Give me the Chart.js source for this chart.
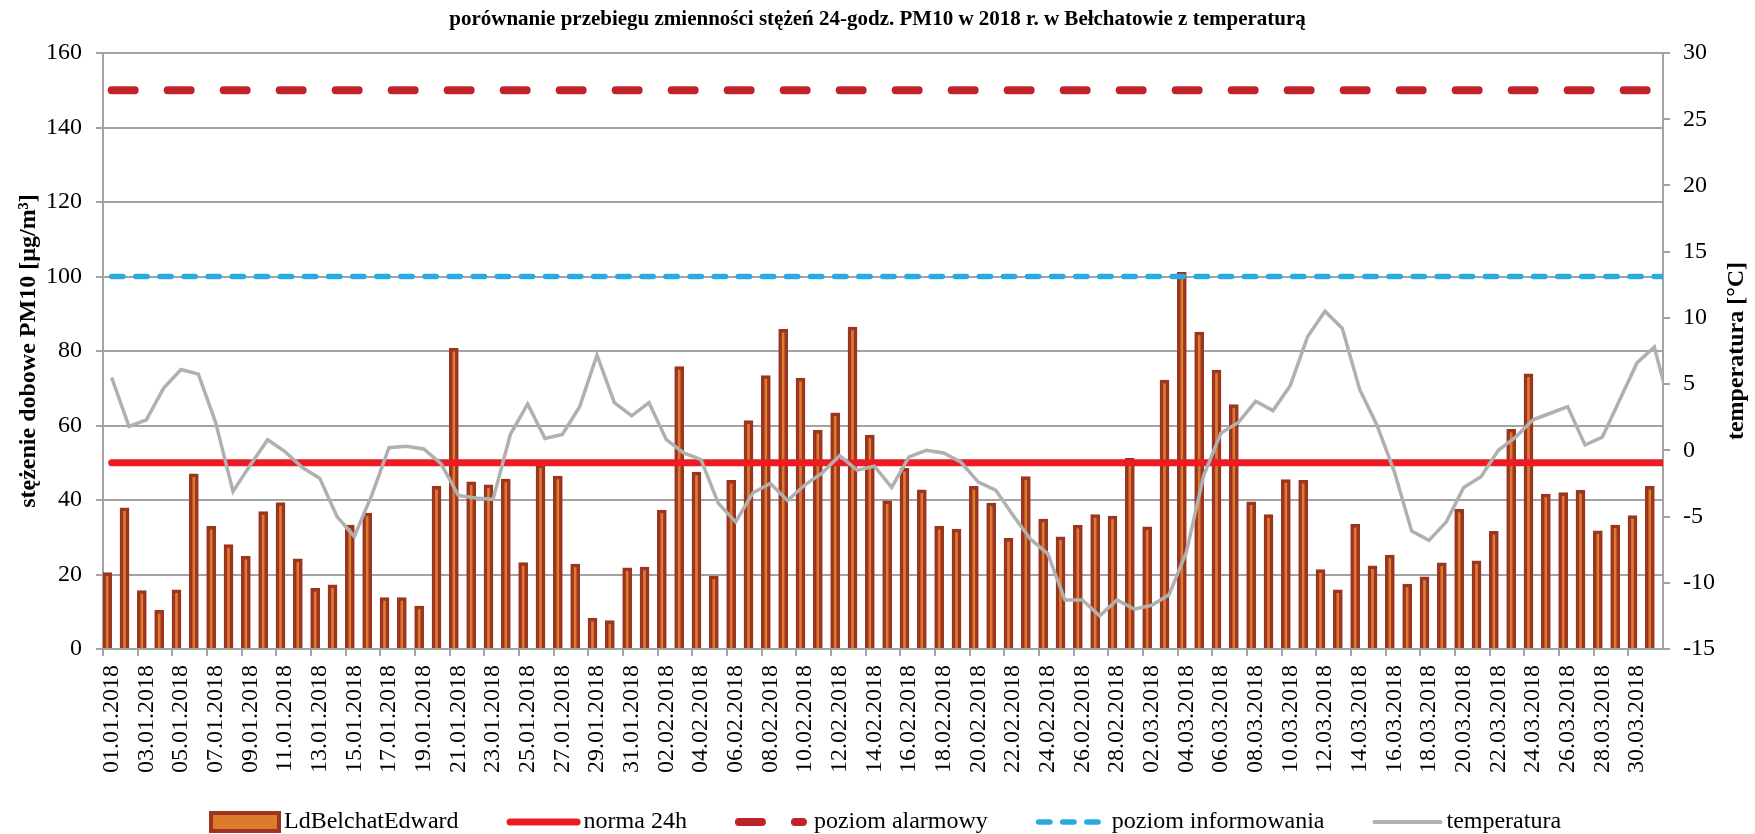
<!DOCTYPE html>
<html>
<head>
<meta charset="utf-8">
<script src="https://cdn.jsdelivr.net/npm/chart.js@4.4.1/dist/chart.umd.min.js"></script>
<style>
html,body{margin:0;padding:0;background:#fff;}
canvas{display:block;}
</style>
</head>
<body>
<canvas id="c" width="1755" height="834"></canvas>
<script>
// ---------- DATA ----------
const dates = [
 '01.01.2018','02.01.2018','03.01.2018','04.01.2018','05.01.2018','06.01.2018','07.01.2018','08.01.2018','09.01.2018','10.01.2018',
 '11.01.2018','12.01.2018','13.01.2018','14.01.2018','15.01.2018','16.01.2018','17.01.2018','18.01.2018','19.01.2018','20.01.2018',
 '21.01.2018','22.01.2018','23.01.2018','24.01.2018','25.01.2018','26.01.2018','27.01.2018','28.01.2018','29.01.2018','30.01.2018',
 '31.01.2018','01.02.2018','02.02.2018','03.02.2018','04.02.2018','05.02.2018','06.02.2018','07.02.2018','08.02.2018','09.02.2018',
 '10.02.2018','11.02.2018','12.02.2018','13.02.2018','14.02.2018','15.02.2018','16.02.2018','17.02.2018','18.02.2018','19.02.2018',
 '20.02.2018','21.02.2018','22.02.2018','23.02.2018','24.02.2018','25.02.2018','26.02.2018','27.02.2018','28.02.2018','01.03.2018',
 '02.03.2018','03.03.2018','04.03.2018','05.03.2018','06.03.2018','07.03.2018','08.03.2018','09.03.2018','10.03.2018','11.03.2018',
 '12.03.2018','13.03.2018','14.03.2018','15.03.2018','16.03.2018','17.03.2018','18.03.2018','19.03.2018','20.03.2018','21.03.2018',
 '22.03.2018','23.03.2018','24.03.2018','25.03.2018','26.03.2018','27.03.2018','28.03.2018','29.03.2018','30.03.2018','31.03.2018'
];

// PM10 24-h concentration [µg/m3], LdBelchatEdward
const pm10 = [
 20.5, 37.9, 15.7, 10.4, 15.9, 47.0, 32.9, 28.0, 24.9, 36.9,
 39.3, 24.2, 16.3, 17.2, 33.3, 36.5, 13.8, 13.8, 11.5, 43.7,
 80.7, 44.9, 44.1, 45.6, 23.2, 49.4, 46.4, 22.8, 8.3, 7.6,
 21.8, 22.0, 37.3, 75.8, 47.5, 19.6, 45.3, 61.3, 73.4, 85.8,
 72.7, 58.7, 63.4, 86.4, 57.4, 39.8, 48.5, 42.7, 32.9, 32.2,
 43.7, 39.2, 29.7, 46.3, 34.9, 30.1, 33.2, 36.1, 35.7, 51.2,
 32.8, 72.2, 101.1, 85.1, 74.9, 65.6, 39.5, 36.1, 45.5, 45.3,
 21.3, 15.9, 33.5, 22.3, 25.2, 17.4, 19.4, 23.1, 37.5, 23.7,
 31.6, 59.0, 73.9, 41.6, 42.0, 42.6, 31.7, 33.3, 35.8, 43.7
];

// temperature [°C]; last value is the partly visible start of the next day
const temperature = [
 5.5, 1.8, 2.3, 4.7, 6.1, 5.75, 2.1, -3.1, -1.1, 0.8,
 -0.1, -1.3, -2.1, -5.0, -6.5, -3.4, 0.2, 0.3, 0.1, -1.0,
 -3.4, -3.6, -3.7, 1.2, 3.5, 0.9, 1.2, 3.3, 7.2, 3.6,
 2.6, 3.6, 0.8, -0.2, -0.7, -4.0, -5.4, -3.2, -2.5, -3.8,
 -2.6, -1.7, -0.4, -1.5, -1.2, -2.8, -0.5, 0.0, -0.2, -0.9,
 -2.4, -3.0, -4.9, -6.7, -7.8, -11.3, -11.3, -12.5, -11.3, -12.0,
 -11.7, -10.9, -7.7, -1.9, 1.3, 2.1, 3.7, 3.0, 4.9, 8.6,
 10.5, 9.2, 4.6, 1.9, -1.6, -6.1, -6.8, -5.4, -2.8, -2.0,
 0.0, 1.0, 2.3, 2.8, 3.3, 0.4, 1.0, 3.8, 6.6, 7.8,
 2.8
];

const NORMA_24H = 50;
const POZIOM_ALARMOWY = 150;
const POZIOM_INFORMOWANIA = 100;

const leftTicks = { min: 0, max: 160, step: 20 };
const rightTicks = { min: -15, max: 30, step: 5 };

// ---------- STYLE ----------
const GRID = '#a3a3a3';
const FONT = 'Liberation Serif';
const C_BAR_FILL = '#dd7a2e';
const C_BAR_BORDER = '#9c3520';
const C_NORM = '#ed1c24';
const C_ALARM = '#c1232b';
const C_INFO = '#29abe2';
const C_TEMP = '#b0b0b0';

const nPts = temperature.length;
const constSeries = v => Array.from({length: nPts}, (_, i) => ({x: i, y: v}));
const tempSeries = temperature.map((v, i) => ({x: i, y: v}));

// custom legend + right axis title (reads bottom-to-top)
const extras = {
  id: 'extras',
  afterDraw(chart) {
    const ctx = chart.ctx;
    const ca = chart.chartArea;
    ctx.save();
    ctx.font = 'bold 24px "' + FONT + '"';
    ctx.fillStyle = '#000';
    ctx.textAlign = 'center';
    ctx.textBaseline = 'middle';
    ctx.translate(1737, (ca.top + ca.bottom) / 2);
    ctx.rotate(-Math.PI / 2);
    ctx.fillText('temperatura [°C]', 0, 0);
    ctx.restore();

    ctx.save();
    const cy = 822;
    ctx.font = '24px "' + FONT + '"';
    ctx.textBaseline = 'middle';
    ctx.textAlign = 'left';
    const items = [
      {t: 'LdBelchatEdward', kind: 'bar', w: 72, gap: 3},
      {t: 'norma 24h', kind: 'line', color: C_NORM, lw: 7, dash: [], w: 74, gap: 3},
      {t: 'poziom alarmowy', kind: 'line', color: C_ALARM, lw: 8, dash: [23, 33], w: 72, gap: 7},
      {t: 'poziom informowania', kind: 'line', color: C_INFO, lw: 5.5, dash: [11.3, 12.8], w: 68, gap: 8},
      {t: 'temperatura', kind: 'line', color: C_TEMP, lw: 4, dash: [], w: 70, gap: 4}
    ];
    let x = 209;
    for (const it of items) {
      if (it.kind === 'bar') {
        ctx.fillStyle = C_BAR_BORDER;
        ctx.fillRect(x, cy - 11, it.w, 22);
        ctx.fillStyle = C_BAR_FILL;
        ctx.fillRect(x + 4, cy - 7, it.w - 8, 14);
      } else {
        ctx.save();
        ctx.strokeStyle = it.color;
        ctx.lineWidth = it.lw;
        ctx.lineCap = 'round';
        ctx.setLineDash(it.dash);
        ctx.beginPath();
        ctx.moveTo(x + it.lw / 2, cy);
        ctx.lineTo(x + it.w - it.lw / 2, cy);
        ctx.stroke();
        ctx.restore();
      }
      const tx = x + it.w + it.gap;
      ctx.fillStyle = '#000';
      ctx.fillText(it.t, tx, cy);
      x = tx + ctx.measureText(it.t).width + 48;
    }
    ctx.restore();
  }
};

new Chart(document.getElementById('c'), {
  type: 'bar',
  data: {
    labels: dates,
    datasets: [
      {
        type: 'bar', label: 'LdBelchatEdward', data: pm10,
        backgroundColor: C_BAR_FILL, borderColor: C_BAR_BORDER, borderWidth: 3.5,
        barThickness: 9, xAxisID: 'x', yAxisID: 'y', order: 5
      },
      {
        type: 'line', label: 'norma 24h', data: constSeries(NORMA_24H),
        borderColor: C_NORM, borderWidth: 7, borderCapStyle: 'round', pointRadius: 0,
        xAxisID: 'xl', yAxisID: 'y', order: 3
      },
      {
        type: 'line', label: 'poziom alarmowy', data: constSeries(POZIOM_ALARMOWY),
        borderColor: C_ALARM, borderWidth: 8, borderCapStyle: 'round', borderDash: [23, 33], pointRadius: 0,
        xAxisID: 'xl', yAxisID: 'y', order: 4
      },
      {
        type: 'line', label: 'poziom informowania', data: constSeries(POZIOM_INFORMOWANIA),
        borderColor: C_INFO, borderWidth: 5.5, borderCapStyle: 'round', borderDash: [11.3, 12.8], pointRadius: 0,
        xAxisID: 'xl', yAxisID: 'y', order: 2
      },
      {
        type: 'line', label: 'temperatura', data: tempSeries,
        borderColor: C_TEMP, borderWidth: 3.5, pointRadius: 0, tension: 0,
        xAxisID: 'xl', yAxisID: 'y2', order: 1
      }
    ]
  },
  options: {
    responsive: false,
    animation: false,
    devicePixelRatio: 1,
    layout: { padding: { top: 0, left: 0, right: 0, bottom: 60 } },
    plugins: {
      legend: { display: false },
      tooltip: { enabled: false },
      title: {
        display: true,
        text: 'porównanie przebiegu zmienności stężeń 24-godz. PM10 w 2018 r. w Bełchatowie z temperaturą',
        color: '#000',
        font: { family: FONT, size: 21, weight: 'bold', lineHeight: 1.2 },
        padding: { top: 7, bottom: 20.8 }
      }
    },
    scales: {
      x: {
        type: 'category',
        offset: true,
        grid: {
          display: true, drawOnChartArea: false, drawTicks: true, tickLength: 7, offset: true,
          color: c => (c.index !== undefined && c.index % 2 === 0) ? GRID : 'rgba(0,0,0,0)',
          lineWidth: 2
        },
        border: { display: true, color: GRID, width: 2 },
        ticks: {
          autoSkip: false, minRotation: 90, maxRotation: 90, padding: 9,
          color: '#000', font: { family: FONT, size: 24 },
          callback: (v, i) => (i % 2 === 0 ? dates[i] : '')
        },
        afterFit: s => { s.height = 125; }
      },
      xl: {
        type: 'linear', display: false, offset: false, bounds: 'data',
        min: -0.5, max: 89.5,
        grid: { offset: false }
      },
      y: {
        position: 'left',
        min: leftTicks.min, max: leftTicks.max,
        ticks: { stepSize: leftTicks.step, padding: 14, color: '#000', font: { family: FONT, size: 24 } },
        grid: { color: GRID, lineWidth: 2, tickLength: 7, drawTicks: true },
        border: { display: true, color: GRID, width: 2 },
        title: {
          display: true, text: 'stężenie dobowe PM10 [µg/m³]', color: '#000',
          font: { family: FONT, size: 24, weight: 'bold', lineHeight: 1.2 },
          padding: { top: 14, bottom: 0 }
        },
        afterFit: s => { s.width = 103; }
      },
      y2: {
        position: 'right',
        min: rightTicks.min, max: rightTicks.max,
        ticks: { stepSize: rightTicks.step, padding: 13, color: '#000', font: { family: FONT, size: 24 } },
        grid: { drawOnChartArea: false, color: GRID, lineWidth: 2, tickLength: 7, drawTicks: true },
        border: { display: true, color: GRID, width: 2 },
        afterFit: s => { s.width = 92; }
      }
    }
  },
  plugins: [extras]
});
</script>
</body>
</html>
